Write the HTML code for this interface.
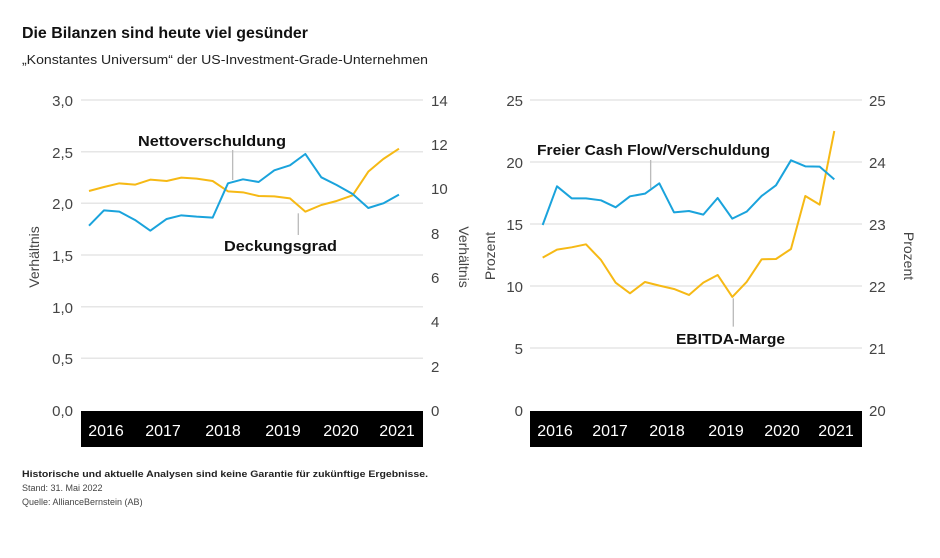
<!DOCTYPE html>
<html><head><meta charset="utf-8"><style>
body{margin:0;background:#fff;width:940px;height:553px;overflow:hidden;font-family:"Liberation Sans",sans-serif}
svg text{font-family:"Liberation Sans",sans-serif}
</style></head><body>
<svg width="940" height="553" viewBox="0 0 940 553" xmlns="http://www.w3.org/2000/svg">
<text x="22" y="38" font-size="16" font-weight="bold" fill="#111" textLength="286" lengthAdjust="spacingAndGlyphs">Die Bilanzen sind heute viel gesünder</text>
<text x="22" y="64" font-size="12.5" fill="#222" textLength="406" lengthAdjust="spacingAndGlyphs">„Konstantes Universum“ der US-Investment-Grade-Unternehmen</text>

<!-- Left chart -->
<g stroke="#e6e6e6" stroke-width="1.5">
<line x1="81" x2="423" y1="100" y2="100"/><line x1="81" x2="423" y1="151.7" y2="151.7"/>
<line x1="81" x2="423" y1="203.3" y2="203.3"/><line x1="81" x2="423" y1="255" y2="255"/>
<line x1="81" x2="423" y1="306.7" y2="306.7"/><line x1="81" x2="423" y1="358.3" y2="358.3"/>
</g>
<rect x="81" y="411" width="342" height="36" fill="#000"/>
<g font-size="16" fill="#fff" text-anchor="middle">
<text x="106" y="436">2016</text><text x="163" y="436">2017</text><text x="223" y="436">2018</text>
<text x="283" y="436">2019</text><text x="341" y="436">2020</text><text x="397" y="436">2021</text>
</g>
<g font-size="15" fill="#444" text-anchor="end">
<text x="73" y="106">3,0</text><text x="73" y="158">2,5</text><text x="73" y="209">2,0</text>
<text x="73" y="261">1,5</text><text x="73" y="313">1,0</text><text x="73" y="364">0,5</text><text x="73" y="416">0,0</text>
</g>
<g font-size="15" fill="#444">
<text x="431" y="106">14</text><text x="431" y="150">12</text><text x="431" y="194">10</text>
<text x="431" y="239">8</text><text x="431" y="283">6</text><text x="431" y="327">4</text><text x="431" y="372">2</text><text x="431" y="416">0</text>
</g>
<text transform="translate(39,257) rotate(-90)" font-size="14" fill="#444" text-anchor="middle">Verhältnis</text>
<text transform="translate(459,257) rotate(90)" font-size="14" fill="#444" text-anchor="middle">Verhältnis</text>

<g transform="translate(20,80) scale(0.3333)" fill="none">
<line x1="638" y1="210" x2="638" y2="300" stroke="#bbb" stroke-width="4"/>
<line x1="835" y1="400" x2="835" y2="465" stroke="#bbb" stroke-width="4"/>
<polyline stroke="#f6b915" stroke-width="6" stroke-linejoin="round" points="207,333 252,321 298,310 345,314 391,299 440,303 484,293 530,296 578,303 624,334 669,337 716,348 763,349 810,355 856,395 904,375 950,363 998,346 1045,275 1090,237 1137,206"/>
<polyline stroke="#1aa3dc" stroke-width="6" stroke-linejoin="round" points="207,437 252,391 298,395 345,420 391,452 440,417 484,406 530,410 578,413 624,310 669,298 716,306 763,271 810,256 856,222 904,292 950,315 998,342 1045,384 1090,370 1137,344"/>
</g>
<text x="138" y="146" font-size="15" font-weight="bold" fill="#111" textLength="148" lengthAdjust="spacingAndGlyphs">Nettoverschuldung</text>
<text x="224" y="251" font-size="15" font-weight="bold" fill="#111" textLength="113" lengthAdjust="spacingAndGlyphs">Deckungsgrad</text>

<!-- Right chart -->
<g stroke="#e6e6e6" stroke-width="1.5">
<line x1="530" x2="862" y1="100" y2="100"/><line x1="530" x2="862" y1="162" y2="162"/>
<line x1="530" x2="862" y1="224" y2="224"/><line x1="530" x2="862" y1="286" y2="286"/>
<line x1="530" x2="862" y1="348" y2="348"/>
</g>
<rect x="530" y="411" width="332" height="36" fill="#000"/>
<g font-size="16" fill="#fff" text-anchor="middle">
<text x="555" y="436">2016</text><text x="610" y="436">2017</text><text x="667" y="436">2018</text>
<text x="726" y="436">2019</text><text x="782" y="436">2020</text><text x="836" y="436">2021</text>
</g>
<g font-size="15" fill="#444" text-anchor="end">
<text x="523" y="106">25</text><text x="523" y="168">20</text><text x="523" y="230">15</text>
<text x="523" y="292">10</text><text x="523" y="354">5</text><text x="523" y="416">0</text>
</g>
<g font-size="15" fill="#444">
<text x="869" y="106">25</text><text x="869" y="168">24</text><text x="869" y="230">23</text>
<text x="869" y="292">22</text><text x="869" y="354">21</text><text x="869" y="416">20</text>
</g>
<text transform="translate(495,256) rotate(-90)" font-size="14" fill="#444" text-anchor="middle">Prozent</text>
<text transform="translate(904,256) rotate(90)" font-size="14" fill="#444" text-anchor="middle">Prozent</text>

<g transform="translate(480,80) scale(0.3333)" fill="none">
<line x1="512" y1="240" x2="512" y2="325" stroke="#bbb" stroke-width="4"/>
<line x1="760" y1="655" x2="760" y2="740" stroke="#bbb" stroke-width="4"/>
<polyline stroke="#f6b915" stroke-width="6" stroke-linejoin="round" points="188,533 231,509 275,502 318,493 363,540 407,608 450,640 495,606 538,617 582,627 627,645 670,608 713,585 757,651 800,606 845,538 888,537 933,507 976,348 1019,374 1063,153"/>
<polyline stroke="#1aa3dc" stroke-width="6" stroke-linejoin="round" points="188,435 231,319 275,355 318,355 363,361 407,382 450,349 495,341 538,310 582,397 627,393 670,404 713,354 757,416 800,395 845,348 888,316 933,241 976,259 1019,260 1063,298"/>
</g>
<text x="537" y="155" font-size="15" font-weight="bold" fill="#111" textLength="233" lengthAdjust="spacingAndGlyphs">Freier Cash Flow/Verschuldung</text>
<text x="676" y="344" font-size="15" font-weight="bold" fill="#111" textLength="109" lengthAdjust="spacingAndGlyphs">EBITDA-Marge</text>

<text x="22" y="477" font-size="9" font-weight="bold" fill="#222" textLength="406" lengthAdjust="spacingAndGlyphs">Historische und aktuelle Analysen sind keine Garantie für zukünftige Ergebnisse.</text>
<text x="22" y="491" font-size="9" fill="#444">Stand: 31. Mai 2022</text>
<text x="22" y="505" font-size="9" fill="#444">Quelle: AllianceBernstein (AB)</text>
</svg>
</body></html>
